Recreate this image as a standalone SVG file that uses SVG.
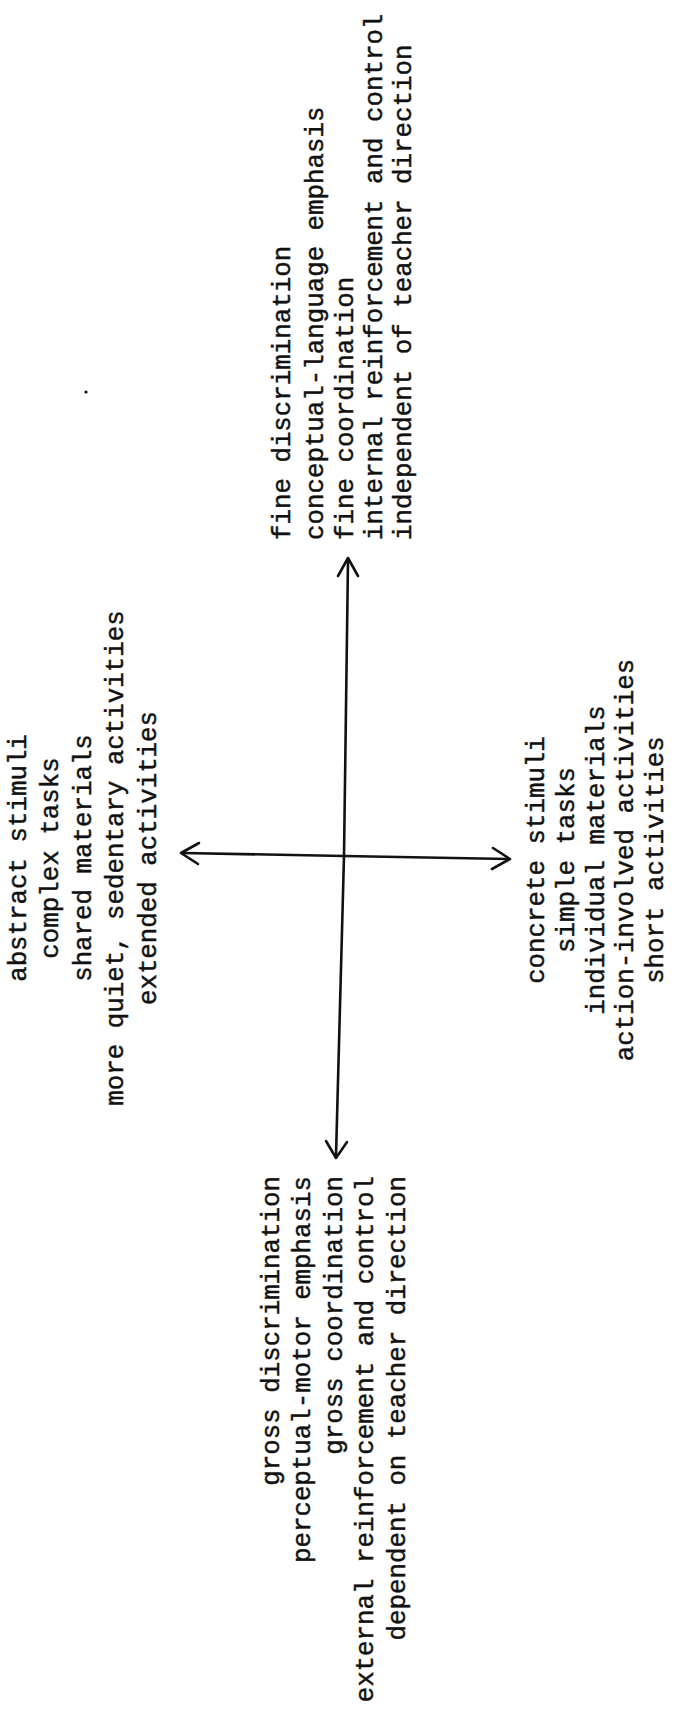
<svg xmlns="http://www.w3.org/2000/svg" width="674" height="1720" viewBox="0 0 674 1720">
<style>
.t{font-family:"Liberation Mono","Courier New",monospace;font-size:25.8px;fill:#111;stroke:#111;stroke-width:0.45px}
.s{text-anchor:start}
.m{text-anchor:middle}
.e{text-anchor:end}
.ax{fill:none;stroke:#111;stroke-width:2.6;stroke-linecap:round;stroke-linejoin:round}
</style>
<rect width="674" height="1720" fill="#fff"/>
<g id="connectors">
<path class="ax" d="M348,560 L344,856 L336,1156"/>
<path class="ax" d="M338,576 L348,558 L358,576"/>
<path class="ax" d="M326,1141 L336,1158 L347,1142"/>
<path class="ax" d="M183,853 L344,856 L508,859"/>
<path class="ax" d="M199,843 L181,853 L198,864"/>
<path class="ax" d="M493,848 L510,859 L492,869"/>
</g>
<g id="top-fine">
<text class="t s" x="290" y="540" transform="rotate(-90 290 540)">fine discrimination</text>
<text class="t s" x="323" y="540" transform="rotate(-90 323 540)">conceptual-language emphasis</text>
<text class="t s" x="353" y="540" transform="rotate(-90 353 540)">fine coordination</text>
<text class="t s" x="382" y="540" transform="rotate(-90 382 540)">internal reinforcement and control</text>
<text class="t s" x="411" y="540" transform="rotate(-90 411 540)">independent of teacher direction</text>
</g>
<g id="left-abstract">
<text class="t m" x="26" y="858" transform="rotate(-90 26 858)">abstract stimuli</text>
<text class="t m" x="58" y="858" transform="rotate(-90 58 858)">complex tasks</text>
<text class="t m" x="91" y="858" transform="rotate(-90 91 858)">shared materials</text>
<text class="t m" x="123" y="858" transform="rotate(-90 123 858)">more quiet, sedentary activities</text>
<text class="t m" x="156" y="858" transform="rotate(-90 156 858)">extended activities</text>
</g>
<g id="right-concrete">
<text class="t m" x="544" y="860" transform="rotate(-90 544 860)">concrete stimuli</text>
<text class="t m" x="574" y="860" transform="rotate(-90 574 860)">simple tasks</text>
<text class="t m" x="604" y="860" transform="rotate(-90 604 860)">individual materials</text>
<text class="t m" x="633" y="860" transform="rotate(-90 633 860)">action-involved activities</text>
<text class="t m" x="663" y="860" transform="rotate(-90 663 860)">short activities</text>
</g>
<g id="bottom-gross">
<text class="t e" x="279" y="1176" transform="rotate(-90 279 1176)">gross discrimination</text>
<text class="t e" x="310" y="1176" transform="rotate(-90 310 1176)">perceptual-motor emphasis</text>
<text class="t e" x="342" y="1176" transform="rotate(-90 342 1176)">gross coordination</text>
<text class="t e" x="373" y="1176" transform="rotate(-90 373 1176)">external reinforcement and control</text>
<text class="t e" x="405" y="1176" transform="rotate(-90 405 1176)">dependent on teacher direction</text>
</g>
<g id="speck"><circle cx="86" cy="392" r="1.6" fill="#111"/></g>
</svg>
